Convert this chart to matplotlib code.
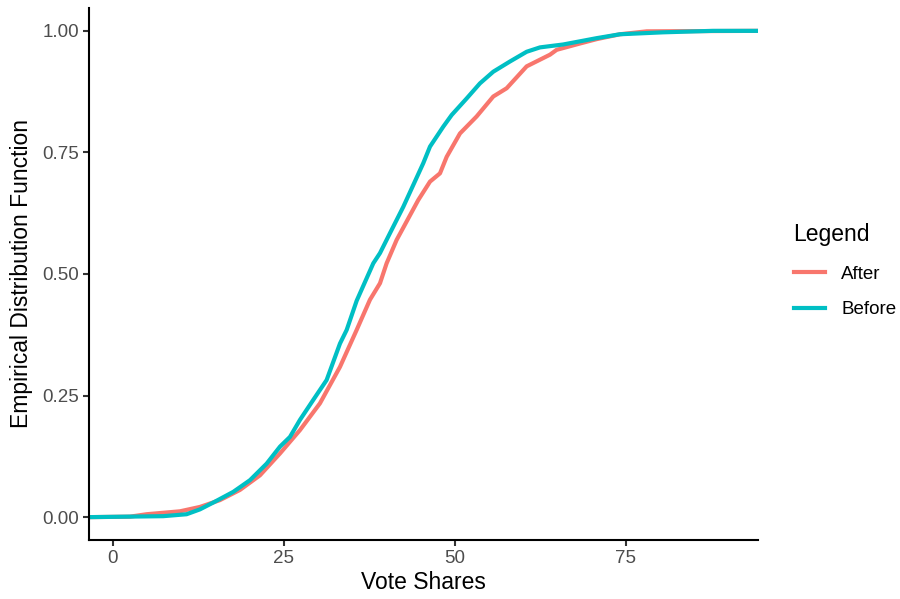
#Empirical distribution of vote shares, before and after

import numpy as np
import matplotlib.pyplot as plt

plt.rcParams['font.family'] = ['Liberation Sans', 'DejaVu Sans']

#Points (vote share, ecdf)
before_x = [-3.5, 7.35, 10.77, 12.72, 14.66, 17.59, 20.03, 22.47, 24.42, 25.88,
            27.34, 29.28, 31.24, 33.19, 34.17, 35.63, 38.06, 39.04, 40.50, 42.44,
            45.37, 46.35, 48.29, 49.52, 51.71, 53.65, 55.60, 58.04, 60.48, 62.43,
            65.83, 70.72, 74.12, 80.45, 87.72, 94.3]
before_y = [0.0, 0.002, 0.006, 0.016, 0.030, 0.052, 0.076, 0.110, 0.145, 0.165,
            0.200, 0.241, 0.282, 0.357, 0.385, 0.445, 0.522, 0.543, 0.584, 0.638,
            0.728, 0.762, 0.803, 0.827, 0.861, 0.892, 0.916, 0.937, 0.957, 0.966,
            0.972, 0.985, 0.993, 0.997, 1.0, 1.0]

after_x = [-3.5, 2.49, 4.93, 9.80, 12.72, 15.64, 18.57, 21.49, 24.42, 27.34,
           30.26, 33.19, 35.63, 37.57, 39.04, 40.01, 41.47, 44.63, 46.35, 47.81,
           48.79, 50.73, 53.17, 55.60, 57.56, 60.48, 63.89, 64.87, 68.27, 70.72,
           74.12, 78.03, 94.3]
after_y = [0.0, 0.001, 0.006, 0.012, 0.021, 0.035, 0.056, 0.086, 0.131, 0.179,
           0.234, 0.309, 0.385, 0.447, 0.481, 0.522, 0.570, 0.652, 0.690, 0.707,
           0.741, 0.789, 0.824, 0.865, 0.882, 0.927, 0.951, 0.961, 0.974, 0.983,
           0.993, 0.999, 1.0]

x_ticks = [0, 25, 50, 75]
y_ticks = [0.0, 0.25, 0.5, 0.75, 1.0]

fig = plt.figure(figsize=(9, 5.99), dpi=100)
ax = fig.add_axes([89/900, 59/599, 669/900, 532/599])

ax.plot(after_x, after_y, color="#F8766D", linewidth=3.0, label="After")
ax.plot(before_x, before_y, color="#00BFC4", linewidth=3.0, label="Before")

ax.set_xlim(-3.5, 94.3)
ax.set_ylim(-0.047, 1.047)
ax.set_xticks(x_ticks)
ax.set_xticklabels([str(t) for t in x_ticks])
ax.set_yticks(y_ticks)
ax.set_yticklabels(["%.2f" % t for t in y_ticks])

for s in ["top", "right"]:
    ax.spines[s].set_visible(False)
for s in ["left", "bottom"]:
    ax.spines[s].set_linewidth(1.5)
    ax.spines[s].set_color("black")
ax.tick_params(axis="both", length=4, width=1.5, color="#333333",
               labelsize=13.5, labelcolor="#4D4D4D", pad=3)

ax.set_xlabel("Vote Shares", fontsize=16.5, labelpad=3)
ax.set_ylabel("Empirical Distribution Function", fontsize=16.5, labelpad=7)

leg = ax.legend(title="Legend", loc="upper left", bbox_to_anchor=(1.042, 0.61),
                frameon=False, fontsize=13.5, title_fontsize=16.5,
                handlelength=1.7, handletextpad=0.85, labelspacing=1.0,
                borderaxespad=0.0)
leg._legend_box.align = "left"
leg._legend_box.sep = 14

fig.savefig("out.png", dpi=100)
